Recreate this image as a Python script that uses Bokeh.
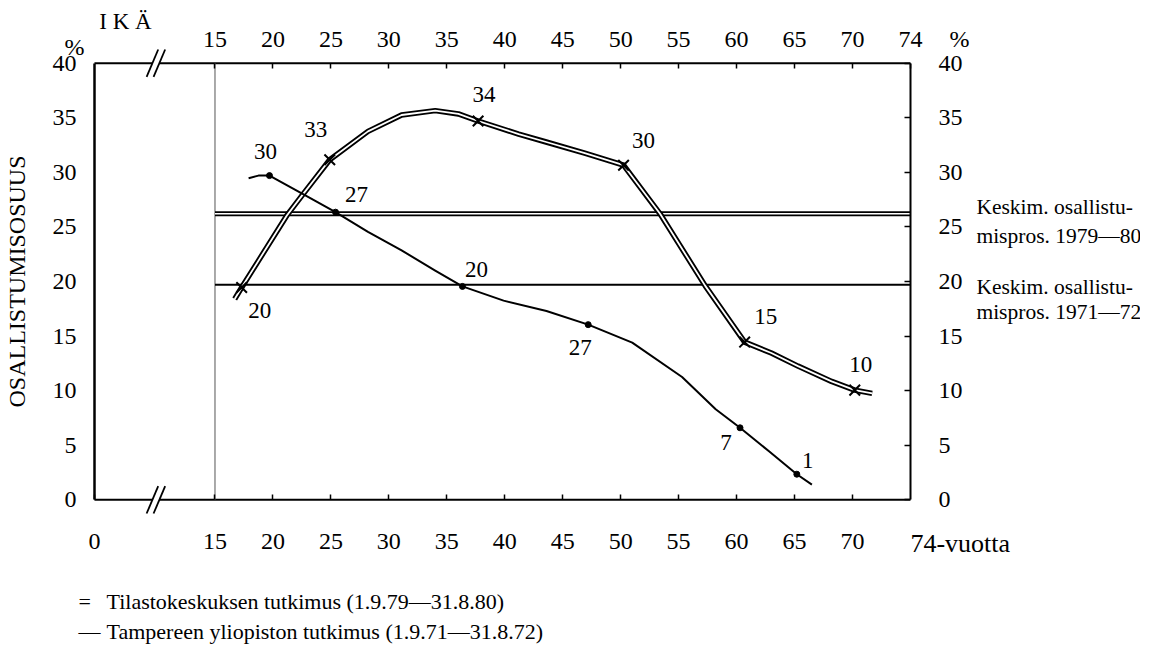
import math
from bokeh.plotting import figure
from bokeh.models import (Range1d, LinearAxis, FixedTicker, Label, LabelSet,
                          ColumnDataSource)
from bokeh.embed import file_html
from bokeh.resources import INLINE
from bokeh.core.properties import value

FONT = "Liberation Serif"

# ---------------- data ----------------
# Tilastokeskuksen tutkimus 1.9.79-31.8.80 (double line), path
tk_path_age = [16.7, 17.3, 21.2, 22.6, 24.9, 28.2, 31.1, 34.0, 36.0, 37.7, 41.2,
               43.5, 46.9, 50.25, 53.4, 57.3, 60.7, 63.0, 65.3, 68.2, 70.2, 71.7]
tk_path_val = [18.4, 19.45, 26.05, 28.0, 31.15, 33.75, 35.25, 35.65, 35.35, 34.7, 33.5,
               32.8, 31.75, 30.65, 26.2, 19.6, 14.45, 13.45, 12.25, 10.85, 10.05, 9.75]
tk_mark_age = [17.3, 24.9, 37.7, 50.25, 60.7, 70.2]
tk_mark_val = [19.45, 31.15, 34.7, 30.65, 14.45, 10.05]
tk_mark_labels = ["20", "33", "34", "30", "15", "10"]

# Tampereen yliopiston tutkimus 1.9.71-31.8.72 (single line)
ta_path_age = [17.9, 18.75, 19.7, 22.6, 25.4, 28.2, 31.1, 34.0, 36.35, 39.9, 43.6,
               47.2, 51.0, 55.3, 58.2, 60.3, 62.8, 65.2, 66.5]
ta_path_val = [29.45, 29.7, 29.7, 28.0, 26.35, 24.55, 22.85, 21.0, 19.55, 18.25, 17.3,
               16.05, 14.4, 11.25, 8.3, 6.6, 4.45, 2.35, 1.4]
ta_dot_age = [19.7, 25.4, 36.35, 47.2, 60.3, 65.2]
ta_dot_val = [29.7, 26.35, 19.55, 16.05, 6.6, 2.35]
ta_dot_labels = ["30", "27", "20", "27", "7", "1"]

# average participation lines
mean_7980 = 26.2
mean_7172 = 19.7
mean_from_age = 15
mean_labels_7980 = ["Keskim. osallistu-", "mispros. 1979—80"]
mean_labels_7172 = ["Keskim. osallistu-", "mispros. 1971—72"]

# axes
age_ticks = [15, 20, 25, 30, 35, 40, 45, 50, 55, 60, 65, 70]
pct_ticks = [0, 5, 10, 15, 20, 25, 30, 35, 40]
age_axis_start = 4.6      # position of the "0" at the broken axis
age_axis_end = 75.0       # right border, labelled "74"
age_break = 9.9           # position of the // break
pct_bottom = 0
pct_top = 40

legend_symbols = ["=", "—"]
legend_texts = ["Tilastokeskuksen tutkimus (1.9.79—31.8.80)",
                "Tampereen yliopiston tutkimus (1.9.71—31.8.72)"]

# label offsets (pixels) - layout only
tk_lab_dx = [18, -14, 6, 20, 21, 6]
tk_lab_dy = [-23, 30, 27, 25, 26, 26]
ta_lab_dx = [-4, 21, 14, -8, -14, 11]
ta_lab_dy = [24, 18, 17, -23, -15, 14]

# ---------------- figure ----------------
# the frame covers the whole canvas; the chart box (4.6..75 x 0..40) sits inside it
p = figure(width=1140, height=660,
           x_range=Range1d(-3.507, 94.853),
           y_range=Range1d(-14.713, 45.737),
           output_backend="svg", toolbar_location=None,
           x_axis_location=None, y_axis_location=None,
           min_border=0, min_border_left=0, min_border_right=0,
           min_border_top=0, min_border_bottom=0)
p.outline_line_color = None
p.xgrid.visible = False
p.ygrid.visible = False
p.background_fill_color = "white"
p.border_fill_color = "white"


def style_axis(ax):
    ax.major_label_text_font = FONT
    ax.major_label_text_font_size = "24px"
    ax.major_label_text_color = "black"
    ax.minor_tick_line_color = None
    ax.major_tick_line_color = "black"
    ax.major_tick_line_width = 1.5
    ax.major_tick_out = 0
    ax.major_tick_in = 5


bottom = LinearAxis(ticker=FixedTicker(ticks=[age_axis_start] + age_ticks, minor_ticks=[]),
                    major_label_overrides={age_axis_start: "0"},
                    fixed_location=pct_bottom, bounds=(age_axis_start, age_axis_end))
style_axis(bottom)
bottom.axis_line_color = None
bottom.major_label_standoff = 34
p.add_layout(bottom, "below")

top = LinearAxis(ticker=FixedTicker(ticks=age_ticks + [age_axis_end], minor_ticks=[]),
                 major_label_overrides={age_axis_end: "74"},
                 fixed_location=pct_top, bounds=(age_axis_start, age_axis_end))
style_axis(top)
top.axis_line_color = None
top.major_label_standoff = 16
p.add_layout(top, "above")

left = LinearAxis(ticker=FixedTicker(ticks=pct_ticks, minor_ticks=[]),
                  fixed_location=age_axis_start, bounds=(pct_bottom, pct_top))
style_axis(left)
left.axis_line_width = 2.5
left.axis_line_color = "black"
left.major_tick_line_color = None
left.major_label_standoff = 18
left.axis_label = "OSALLISTUMISOSUUS"
left.axis_label_text_font = FONT
left.axis_label_text_font_size = "24px"
left.axis_label_text_font_style = "normal"
left.axis_label_text_color = "black"
left.axis_label_standoff = 20
p.add_layout(left, "left")

right = LinearAxis(ticker=FixedTicker(ticks=pct_ticks, minor_ticks=[]),
                   fixed_location=age_axis_end, bounds=(pct_bottom, pct_top))
style_axis(right)
right.axis_line_width = 2
right.axis_line_color = "black"
right.major_tick_in = 6
right.major_label_standoff = 28
p.add_layout(right, "right")

# top and bottom border lines with the // break
for lvl in (pct_bottom, pct_top):
    p.segment(x0=[age_axis_start, age_break + 0.3], y0=[lvl, lvl],
              x1=[age_break - 0.3, age_axis_end], y1=[lvl, lvl],
              line_color="black", line_width=2)
    p.segment(x0=[age_break - 0.8, age_break - 0.2], y0=[lvl - 1.25] * 2,
              x1=[age_break + 0.2, age_break + 0.8], y1=[lvl + 1.25] * 2,
              line_color="black", line_width=1.8)

# vertical line at age 15
p.segment(x0=[mean_from_age], y0=[pct_bottom], x1=[mean_from_age], y1=[pct_top],
          line_color="#555555", line_width=1)

# average lines
p.segment(x0=[mean_from_age], y0=[mean_7980], x1=[age_axis_end], y1=[mean_7980],
          line_color="black", line_width=5)
p.segment(x0=[mean_from_age], y0=[mean_7980], x1=[age_axis_end], y1=[mean_7980],
          line_color="white", line_width=1.6)
p.segment(x0=[mean_from_age], y0=[mean_7172], x1=[age_axis_end], y1=[mean_7172],
          line_color="black", line_width=2)

# Tilastokeskus double curve
p.line(tk_path_age, tk_path_val, line_color="black", line_width=5.5, line_join="round")
p.line(tk_path_age, tk_path_val, line_color="white", line_width=1.8, line_join="round")

# Tampere single curve
p.line(ta_path_age, ta_path_val, line_color="black", line_width=2, line_join="round")
p.scatter(ta_dot_age, ta_dot_val, marker="circle", size=6, color="black")

p.scatter(tk_mark_age, tk_mark_val, marker="x", size=15, line_width=2, line_color="black")


def labset(xs, ys, texts, dx, dy, size="23px"):
    src = ColumnDataSource(dict(x=xs, y=ys, t=texts, dx=dx, dy=dy))
    p.add_layout(LabelSet(x="x", y="y", text="t", source=src, x_offset="dx", y_offset="dy",
                          text_font=value(FONT), text_font_size=size, text_color="black",
                          text_align="center", text_baseline="middle"))


# point labels
labset(tk_mark_age, tk_mark_val, tk_mark_labels, tk_lab_dx, tk_lab_dy)
labset(ta_dot_age, ta_dot_val, ta_dot_labels, ta_lab_dx, ta_lab_dy)


def lab(x, y, text, size="21px", align="left", xo=0, yo=0):
    p.add_layout(Label(x=x, y=y, text=text, x_offset=xo, y_offset=yo,
                       text_font=FONT, text_font_size=size, text_color="black",
                       text_align=align, text_baseline="middle"))


lab(7.28, 43.8, "I K Ä", size="23px", align="center")
lab(2.87, 41.47, "%", size="24px", align="center")
lab(79.24, 42.2, "%", size="24px", align="center")
lab(age_axis_end, -3.96, "74-vuotta", size="26px")

lab(age_axis_end, mean_7980, mean_labels_7980[0], size="21.5px", xo=66, yo=6.7)
lab(age_axis_end, mean_7980, mean_labels_7980[1], size="21.5px", xo=66, yo=-22.3)
lab(age_axis_end, mean_7172, mean_labels_7172[0], size="21.5px", xo=66, yo=-2.3)
lab(age_axis_end, mean_7172, mean_labels_7172[1], size="21.5px", xo=66, yo=-27.3)

for i, (sym, txt) in enumerate(zip(legend_symbols, legend_texts)):
    lab(3.22, -9.35, sym, size="22px", yo=-30 * i)
    lab(5.64, -9.35, txt, size="22px", yo=-30 * i)

open("out.html", "w").write(file_html(p, INLINE, title="Osallistumisosuus"))
